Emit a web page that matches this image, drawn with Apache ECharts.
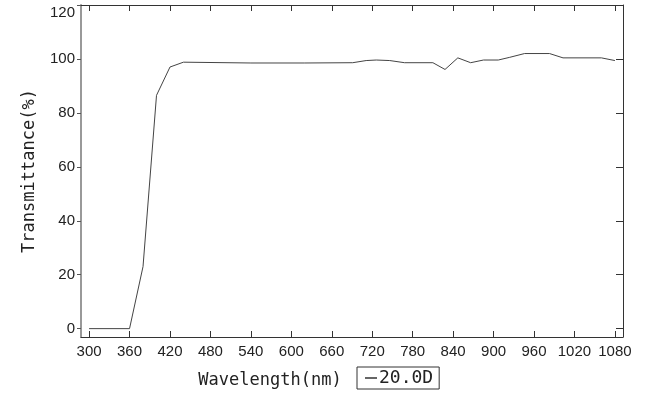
<!DOCTYPE html>
<html>
<head>
<meta charset="utf-8">
<script src="https://cdn.jsdelivr.net/npm/echarts@6/dist/echarts.min.js"></script>
<style>
  html, body { margin: 0; padding: 0; background: #fff; }
  #chart { width: 651px; height: 395px; }
</style>
</head>
<body>
<div id="chart"></div>
<script>
// wavelength (nm) / transmittance (%)
const wavelengths = [300, 360, 380, 400, 420, 440, 540, 620, 691, 711, 726, 746, 768, 810,
    828, 847, 866, 885, 907, 924, 946, 983, 1003, 1060, 1080]
const transmittance = [0, 0, 23, 86.5, 97, 98.8, 98.5, 98.5, 98.6, 99.4, 99.6, 99.4, 98.6, 98.6,
    96.1, 100.4, 98.6, 99.6, 99.6, 100.6, 102.0, 102.0, 100.4, 100.4, 99.4]
const xTicks = [300, 360, 420, 480, 540, 600, 660, 720, 780, 840, 900, 960, 1020, 1080]
const yTicks = [0, 20, 40, 60, 80, 100, 120]
const seriesName = '20.0D'

const monoFont = '"DejaVu Sans Mono", monospace'
const tickFont = '"Liberation Sans", Arial, sans-serif'

const points = wavelengths.map((w, i) => [w, transmittance[i]])

const xRange = { min: 288, max: 1092 }
const yRange = { min: -3.1, max: 120 }
const plain = v => String(v)

const chart = echarts.init(document.getElementById('chart'), null, { renderer: 'canvas' })

chart.setOption({
    animation: false,
    backgroundColor: '#fff',
    grid: { left: 81, right: 28, top: 5, bottom: 58 },
    legend: {
        left: 357, top: 367,
        padding: [2, 6, 2, 8],
        borderColor: '#333', borderWidth: 1,
        icon: 'rect', itemWidth: 12, itemHeight: 1.5,
        textStyle: { fontFamily: monoFont, fontSize: 18, color: '#222', padding: [0, 0, 0, -3] },
        data: [seriesName]
    },
    xAxis: [
        {
            type: 'value', position: 'bottom', ...xRange,
            name: 'Wavelength(nm)', nameLocation: 'middle', nameGap: 35,
            nameMoveOverlap: false,
            nameTextStyle: { fontFamily: monoFont, fontSize: 17, color: '#222', padding: [0, 164, 0, 0] },
            axisLine: { show: true, onZero: false, lineStyle: { color: '#333', width: 1 } },
            axisTick: { show: true, inside: true, length: 6, customValues: xTicks, lineStyle: { color: '#333' } },
            axisLabel: { customValues: xTicks, formatter: plain, margin: 7, fontFamily: tickFont, fontSize: 15, color: '#222' },
            splitLine: { show: false }
        },
        {
            type: 'value', position: 'top', ...xRange,
            axisLine: { show: true, onZero: false, lineStyle: { color: '#333', width: 1 } },
            axisTick: { show: true, inside: true, length: 6, customValues: xTicks, lineStyle: { color: '#333' } },
            axisLabel: { show: false },
            splitLine: { show: false }
        }
    ],
    yAxis: [
        {
            type: 'value', position: 'left', ...yRange,
            name: 'Transmittance(%)', nameLocation: 'middle', nameGap: 43,
            nameTextStyle: { fontFamily: monoFont, fontSize: 17, color: '#222' },
            axisLine: { show: true, onZero: false, lineStyle: { color: '#999', width: 2 } },
            axisTick: { show: true, inside: false, length: 4, customValues: yTicks, lineStyle: { color: '#555' } },
            axisLabel: {
                customValues: yTicks, formatter: plain, margin: 6, fontFamily: tickFont, fontSize: 15, color: '#222',
                verticalAlignMaxLabel: 'top'
            },
            splitLine: { show: false }
        },
        {
            type: 'value', position: 'right', ...yRange,
            axisLine: { show: true, onZero: false, lineStyle: { color: '#333', width: 1 } },
            axisTick: { show: true, inside: true, length: 7, customValues: yTicks, lineStyle: { color: '#333' } },
            axisLabel: { show: false },
            splitLine: { show: false }
        }
    ],
    series: [
        {
            name: seriesName,
            type: 'line',
            data: points,
            showSymbol: false,
            lineStyle: { color: '#444', width: 1 },
            itemStyle: { color: '#333' }
        }
    ]
})
</script>
</body>
</html>
